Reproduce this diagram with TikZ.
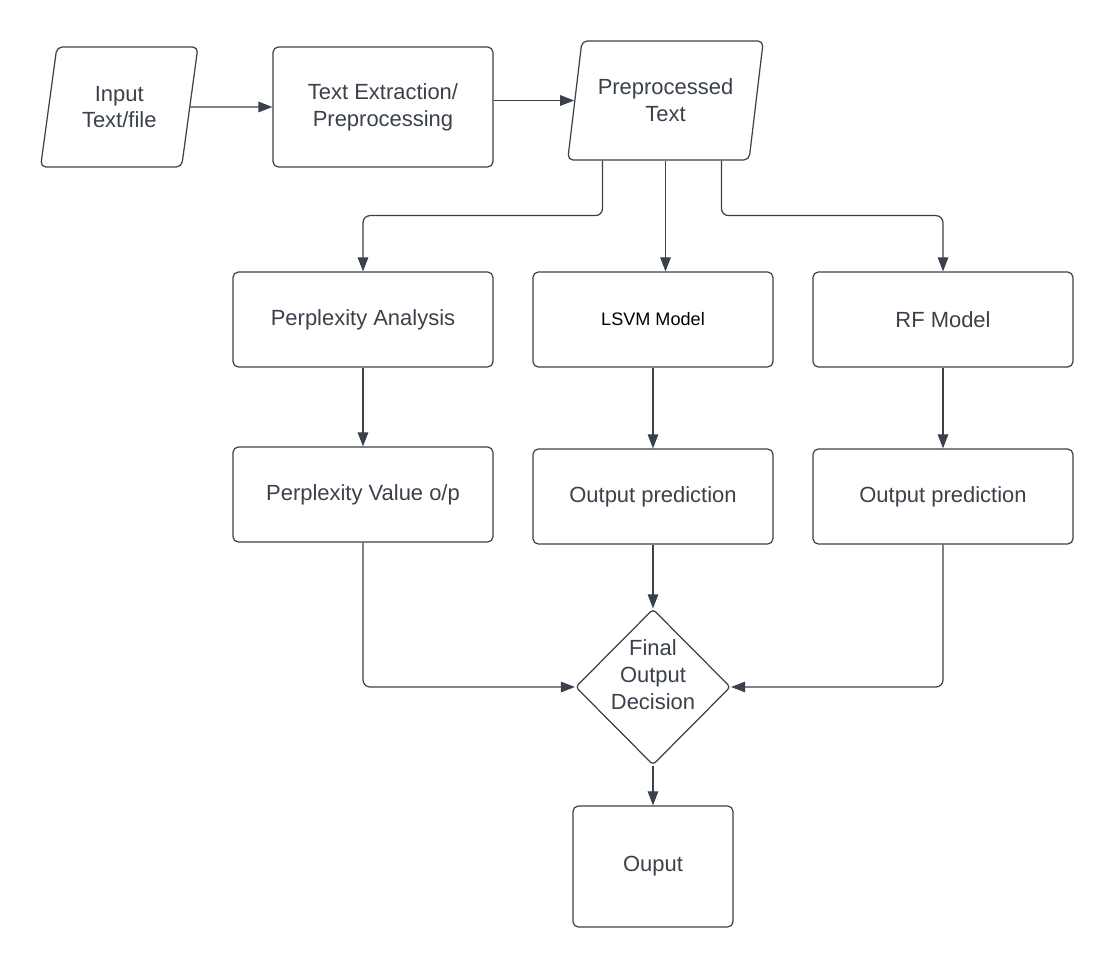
\documentclass[tikz,border=0pt]{standalone}
\usepackage{fontspec}
\setmainfont{Liberation Sans}
\usetikzlibrary{shapes.geometric,arrows.meta,calc}
\definecolor{ink}{HTML}{3A414B}
\begin{document}
\begin{tikzpicture}[x=0.02cm,y=-0.02cm,
    font=\fontsize{12.5}{15.3}\selectfont,
    every node/.style={text=ink,align=center,inner sep=0pt},
    box/.style={draw=ink,line width=0.7pt,rounded corners=3pt,
      minimum width=5.2cm,minimum height=1.9cm},
    narrow/.style={box,minimum width=4.8cm},
    io/.style={draw=ink,line width=0.7pt,rounded corners=3pt,trapezium,
      trapezium stretches=true},
    decision/.style={draw=ink,line width=0.7pt,rounded corners=2pt,diamond,
      minimum width=3.1cm,minimum height=3.12cm}
  ]
  \useasboundingbox (0,0) rectangle (1113,967);
  \draw
    (119.25,107) node[io,trapezium left angle=77,trapezium right angle=103,
      minimum width=3.15cm,minimum height=2.4cm] (in){Input\\Text/file}
    (383,107) node[box,minimum width=4.4cm,minimum height=2.4cm] (te){Text Extraction/\\Preprocessing}
    (665.5,100.5) node[io,trapezium left angle=75,trapezium right angle=105,
      minimum width=3.94cm,minimum height=2.38cm] (pre){Preprocessed\\Text}
    (363,319.5) node[box] (pa){Perplexity Analysis}
    (653,319.5) node[narrow,text=black,font=\fontsize{10.3}{12}\selectfont] (lsvm){LSVM Model}
    (943,319.5) node[box] (rf){RF Model}
    (363,494.5) node[box] (pv){Perplexity Value o/p}
    (653,496.5) node[narrow] (lo){Output prediction}
    (943,496.5) node[box] (ro){Output prediction}
    (653,687) node[decision] (dec){\raisebox{0.09cm}[0.6cm][0.6cm]{\begin{tabular}{@{}c@{}}Final\\Output\\Decision\end{tabular}}}
    (653,866.5) node[box,minimum width=3.2cm,minimum height=2.42cm] (out){Ouput};
  \begin{scope}[draw=ink,line width=0.7pt,-{Triangle[length=8pt,width=6pt]}]
    \draw (in) to (te);
    \draw (te.east |- pre.west) to (pre.west);
    \draw[rounded corners=4pt] ($(pre.center |- pre.south)+(-63,0)$) -- ++(0,55) -| (pa.north);
    \draw (pre.center |- pre.south) to (pre.center |- lsvm.north);
    \draw[rounded corners=4pt] ($(pre.center |- pre.south)+(56,0)$) -- ++(0,55) -| (rf.north);
    \draw (pa) to (pv);
    \draw (lsvm) to (lo);
    \draw (rf) to (ro);
    \draw[rounded corners=4pt] (pv.south) |- (dec.west);
    \draw (lo) to (dec);
    \draw[rounded corners=4pt] (ro.south) |- (dec.east);
    \draw (dec) to (out);
  \end{scope}
\end{tikzpicture}
\end{document}
